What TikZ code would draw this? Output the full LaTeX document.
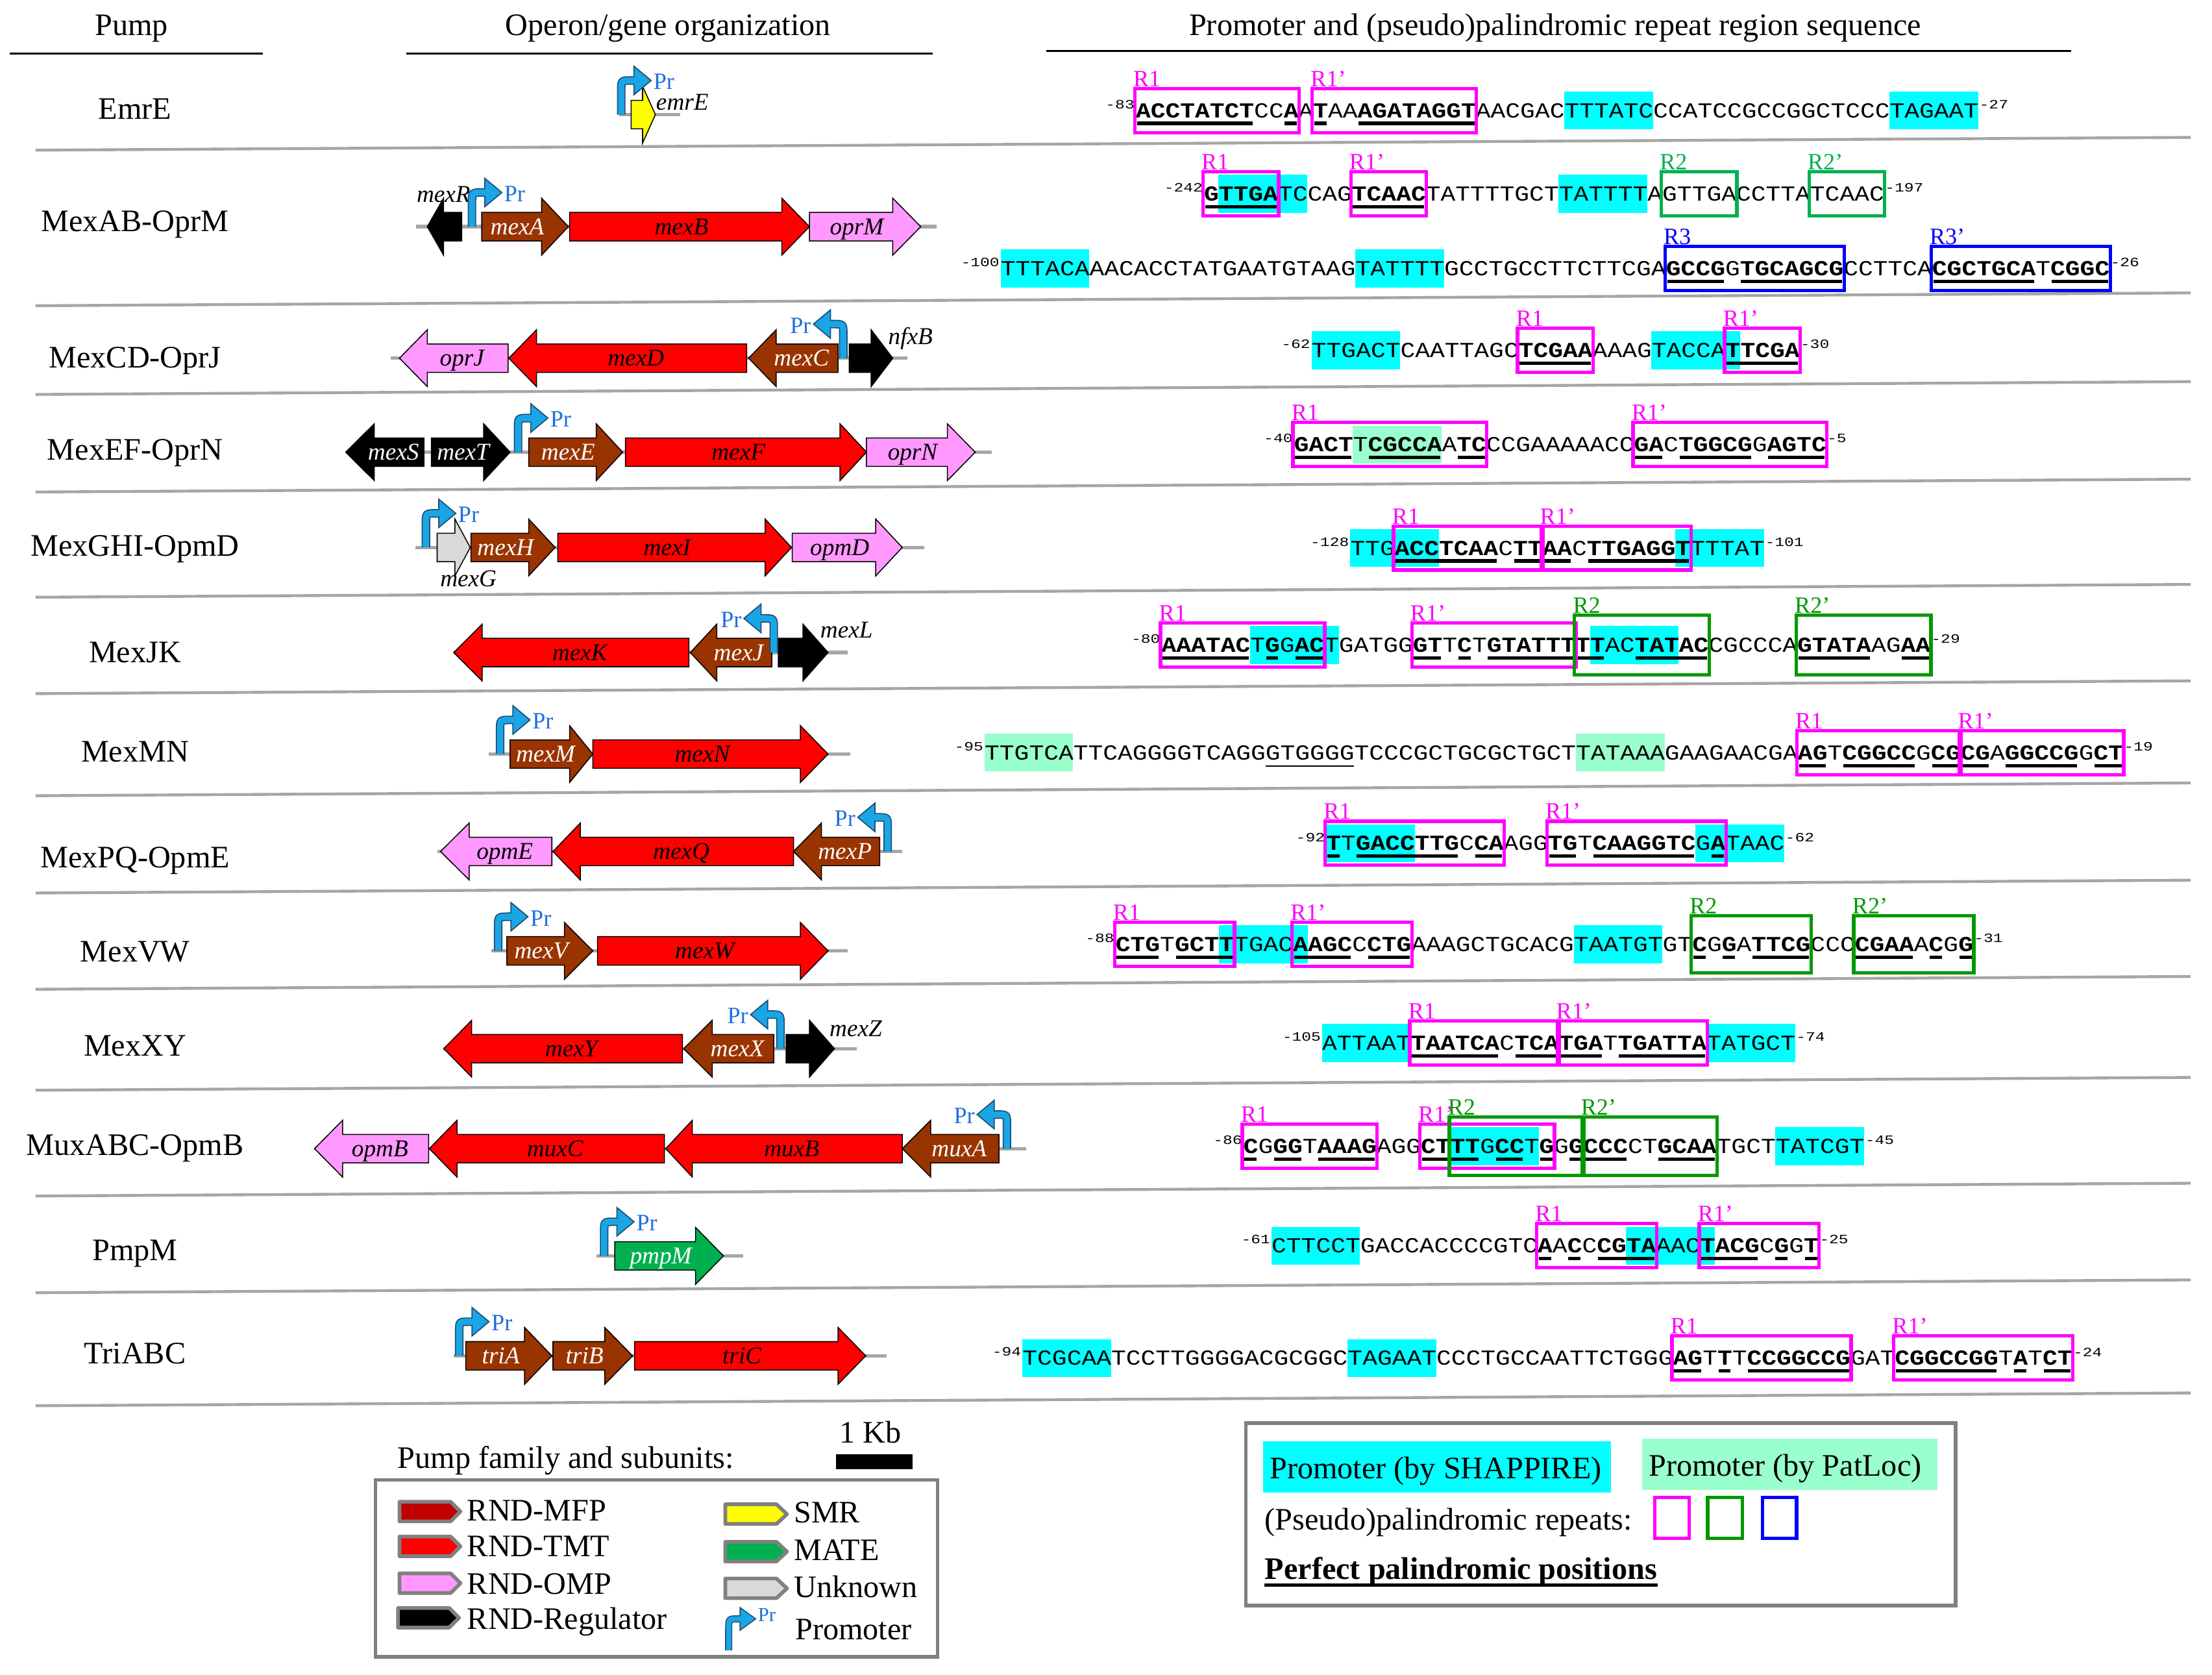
\documentclass[tikz,border=0pt]{standalone}
\usepackage{fontspec}
\setmainfont{Liberation Serif}
\newfontfamily\seqf{Liberation Mono}[FakeStretch=1.15]
\newfontfamily\numf{Liberation Mono}[FakeStretch=1.25]
\definecolor{mfpc}{HTML}{993300}
\definecolor{tmt}{HTML}{FF0000}
\definecolor{omp}{HTML}{FF99FF}
\definecolor{smr}{HTML}{FFFF00}
\definecolor{mate}{HTML}{00B050}
\definecolor{unk}{HTML}{D9D9D9}
\definecolor{legmfp}{HTML}{C00000}
\definecolor{cyanh}{HTML}{00FFFF}
\definecolor{minth}{HTML}{99FFCC}
\definecolor{mag}{HTML}{FF00FF}
\definecolor{grn}{HTML}{009900}
\definecolor{grnB}{HTML}{00B050}
\definecolor{blu}{HTML}{0000FF}
\definecolor{prfill}{HTML}{1AA6E4}
\definecolor{prline}{HTML}{1F4E79}
\definecolor{prblue}{HTML}{1F6FE0}
\definecolor{bbgray}{HTML}{A6A6A6}
\definecolor{lgray}{HTML}{808080}
\newcounter{nn}
\tikzset{
 big/.style={font=\fontsize{22}{22}\selectfont, inner sep=0pt},
 gl/.style={font=\fontsize{17}{17}\selectfont\itshape, inner sep=0pt, anchor=base},
 rlab/.style={font=\fontsize{16.5}{16.5}\selectfont, inner sep=0pt},
 prtxt/.style={text=prblue, font=\fontsize{16.5}{16.5}\selectfont, inner sep=0pt},
 seqtxt/.style={font=\seqf\fontsize{15.07}{15.07}\selectfont, inner sep=0pt, anchor=west},
 numtxt/.style={font=\numf\fontsize{9}{9}\selectfont, inner sep=0pt},
 bb/.style={draw=bbgray, line width=2.5pt},
 sepl/.style={draw=bbgray, line width=2pt},
 gene/.style={draw=black, line width=0.7pt, line join=miter},
 licn/.style={draw=lgray, line width=2.6pt, line join=round},
}
\def\cw{10.40}
% gene arrows
\newcommand\gR[7]{%
 \filldraw[gene, fill=#5] (#1,#4-10) -- (#2,#4-10) -- (#2,#4-20) -- (#3,#4) -- (#2,#4+20) -- (#2,#4+10) -- (#1,#4+10) -- cycle;
 \stepcounter{nn}\node[gl, text=#7] (g\thenn) at ({(#1+#2)/2+4},{#4+5.5}) {#6};}
\newcommand\gL[7]{%
 \filldraw[gene, fill=#5] (#3,#4-10) -- (#2,#4-10) -- (#2,#4-20) -- (#1,#4) -- (#2,#4+20) -- (#2,#4+10) -- (#3,#4+10) -- cycle;
 \stepcounter{nn}\node[gl, text=#7] (g\thenn) at ({(#2+#3)/2-4},{#4+5.5}) {#6};}
% promoter arrows
\newcommand\promR[2]{%
 \draw[prline, line width=6pt] (#1,#2) -- (#1,#2-17) .. controls (#1,#2-24) .. (#1+7,#2-24) -- (#1+10,#2-24);
 \filldraw[fill=prfill, draw=prline, line width=0.8pt, line join=miter] (#1+9,#2-34) -- (#1+21,#2-24) -- (#1+9,#2-14) -- cycle;
 \draw[prfill, line width=4.4pt] (#1,#2-0.1) -- (#1,#2-17) .. controls (#1,#2-24) .. (#1+7,#2-24) -- (#1+10.2,#2-24);
 \stepcounter{nn}\node[prtxt, anchor=west] (pr\thenn) at (#1+22.5,#2-23) {Pr};}
\newcommand\promL[2]{%
 \draw[prline, line width=6pt] (#1,#2) -- (#1,#2-17) .. controls (#1,#2-24) .. (#1-7,#2-24) -- (#1-10,#2-24);
 \filldraw[fill=prfill, draw=prline, line width=0.8pt, line join=miter] (#1-9,#2-34) -- (#1-21,#2-24) -- (#1-9,#2-14) -- cycle;
 \draw[prfill, line width=4.4pt] (#1,#2-0.1) -- (#1,#2-17) .. controls (#1,#2-24) .. (#1-7,#2-24) -- (#1-10.2,#2-24);
 \stepcounter{nn}\node[prtxt, anchor=east] (pr\thenn) at (#1-22.5,#2-23) {Pr};}
% sequence helpers
\newcommand\hlt[3]{\fill[#3] ({\xo+(#1)*\cw},{\yc-13.3}) rectangle ({\xo+(#2+1)*\cw},{\yc+13.3});}
\newcommand\rbx[5]{%
 \draw[#3, line width=2.4pt] ({\xo+(#1)*\cw-0.6},{\yc-#5}) rectangle ({\xo+(#2+1)*\cw+0.6},{\yc+#5});
 \stepcounter{nn}\node[rlab, text=#3, anchor=base west] (r\thenn) at ({\xo+(#1)*\cw-1.8},{\yc-#5-1.4}) {#4};}
\newcommand\ubr[2]{\fill ({\xo+(#1)*\cw+0.9},{\yc+7.9}) rectangle ({\xo+(#2+1)*\cw-0.9},{\yc+10.3});}
\newcommand\sqtext[5]{%
 \node[seqtxt] (#1) at (\xo,\yc) {#5};
 \node[numtxt, anchor=east] (#1l) at ({\xo-0.6},{\yc-4.2}) {#2};
 \node[numtxt, anchor=west] (#1r) at ({\xo+#4*\cw+0.6},{\yc-4.2}) {#3};}
\newcommand\licon[5]{\filldraw[licn, fill=#5] (#1,#4-6.9) -- (#2,#4-6.9) -- (#3,#4) -- (#2,#4+6.9) -- (#1,#4+6.9) -- cycle;}
\begin{document}
\begin{tikzpicture}[x=1pt,y=-1pt]
\fill[white] (0,0) rectangle (1556,1177.6);
\useasboundingbox (0,0) rectangle (1556,1177.6);
% headers
\node[big, anchor=base] (hp) at (92.5,25) {Pump};
\node[big, anchor=base] (ho) at (470,25) {Operon/gene organization};
\node[big, anchor=base] (hs) at (1094,25) {Promoter and (pseudo)palindromic repeat region sequence};
\draw[line width=1.5pt] (7,37.6) -- (185,37.6);
\draw[line width=1.5pt] (286,37.6) -- (656,37.6);
\draw[line width=1.5pt] (736,36) -- (1457,36);
% separators
\foreach \s in {105.6,215,277.4,346,420,487.8,559.6,628,695.7,766.7,841.1,909.1,988.6}
 {\draw[sepl] (25,\s) -- (1541,\s-9);}
% pump names
\node[big, anchor=base] (n1) at (95,83.9) {EmrE};
\node[big, anchor=base] (n2) at (95,162.9) {MexAB-OprM};
\node[big, anchor=base] (n3) at (95,258.5) {MexCD-OprJ};
\node[big, anchor=base] (n4) at (95,323.5) {MexEF-OprN};
\node[big, anchor=base] (n5) at (95,390.9) {MexGHI-OpmD};
\node[big, anchor=base] (n6) at (95,465.7) {MexJK};
\node[big, anchor=base] (n7) at (95,536) {MexMN};
\node[big, anchor=base] (n8) at (95,610) {MexPQ-OpmE};
\node[big, anchor=base] (n9) at (95,676.2) {MexVW};
\node[big, anchor=base] (n10) at (95,742.8) {MexXY};
\node[big, anchor=base] (n11) at (95,812.3) {MuxABC-OpmB};
\node[big, anchor=base] (n12) at (95,886.3) {PmpM};
\node[big, anchor=base] (n13) at (95,959.1) {TriABC};
% ---------- operons ----------
% EmrE
\draw[bb] (435.7,80.6) -- (478.6,80.6);
\gR{444}{452}{461}{80.6}{smr}{}{black}
\node[gl] (lemrE) at (480,77.5) {emrE};
\promR{437}{80.6}
% MexAB
\draw[bb] (292.6,159.4) -- (659,159.4);
\gL{300.6}{312}{324.8}{159.4}{black}{}{white}
\gR{338.8}{381}{399.8}{159.4}{mfpc}{mexA}{white}
\gR{400.7}{550}{569.4}{159.4}{tmt}{mexB}{black}
\gR{569.4}{628}{647.7}{159.4}{omp}{oprM}{black}
\node[gl] (lmexR) at (312,142) {mexR};
\promR{332}{159.4}
% MexCD
\draw[bb] (275,251.9) -- (638.4,251.9);
\gL{281}{300.6}{357.4}{251.9}{omp}{oprJ}{black}
\gL{357.9}{377.4}{525.2}{251.9}{tmt}{mexD}{black}
\gL{526.6}{546}{589.5}{251.9}{mfpc}{mexC}{white}
\gR{597.4}{612.8}{628}{251.9}{black}{}{white}
\node[gl] (lnfxB) at (640.5,242) {nfxB};
\promL{593.2}{251.9}
% MexEF
\draw[bb] (250,318) -- (697.6,318);
\gL{243.2}{263.3}{298.2}{318}{black}{mexS}{white}
\gR{303.4}{340.2}{358.8}{318}{black}{mexT}{white}
\gR{371.9}{419.4}{438}{318}{mfpc}{mexE}{white}
\gR{440}{590.9}{609.5}{318}{tmt}{mexF}{black}
\gR{609.5}{666.4}{686}{318}{omp}{oprN}{black}
\promR{364.4}{318}
% MexGHI
\draw[bb] (292,385) -- (650,385);
\gR{307.5}{320}{330.8}{385}{unk}{}{black}
\gR{331.3}{371.9}{390.5}{385}{mfpc}{mexH}{white}
\gR{392.4}{538.2}{556.8}{385}{tmt}{mexI}{black}
\gR{557.3}{616}{634.7}{385}{omp}{opmD}{black}
\node[gl] (lmexG) at (329.5,412.7) {mexG};
\promR{299.6}{385}
% MexJK
\draw[bb] (319,458.9) -- (596.5,458.9);
\gL{319.2}{339.2}{484.6}{458.9}{tmt}{mexK}{black}
\gL{485.6}{504.2}{542.9}{458.9}{mfpc}{mexJ}{white}
\gR{547.5}{564.8}{582.5}{458.9}{black}{}{white}
\node[gl] (lmexL) at (595.5,448.5) {mexL};
\promL{544.3}{458.9}
% MexMN
\draw[bb] (343.9,530.3) -- (597.9,530.3);
\gR{358.8}{400.7}{417}{530.3}{mfpc}{mexM}{white}
\gR{417}{563}{582.5}{530.3}{tmt}{mexN}{black}
\promR{351.8}{530.3}
% MexPQ
\draw[bb] (307.5,598.8) -- (634.7,598.8);
\gL{309.9}{330}{388.2}{598.8}{omp}{opmE}{black}
\gL{389}{408.2}{558.2}{598.8}{tmt}{mexQ}{black}
\gL{558.2}{577.8}{618.8}{598.8}{mfpc}{mexP}{white}
\promL{624.4}{598.8}
% MexVW
\draw[bb] (345.8,668.7) -- (596.5,668.7);
\gR{356.5}{397}{417}{668.7}{mfpc}{mexV}{white}
\gR{420.3}{563}{582.5}{668.7}{tmt}{mexW}{black}
\promR{350.4}{668.7}
% MexXY
\draw[bb] (312,737.5) -- (602.5,737.5);
\gL{312.2}{331.8}{480}{737.5}{tmt}{mexY}{black}
\gL{480.9}{501}{544.3}{737.5}{mfpc}{mexX}{white}
\gR{553}{569.4}{587}{737.5}{black}{}{white}
\node[gl] (lmexZ) at (602,729) {mexZ};
\promL{549}{737.5}
% MuxABC
\draw[bb] (221,807.8) -- (722,807.8);
\gL{221.3}{241}{301.5}{807.8}{omp}{opmB}{black}
\gL{302}{321.5}{467.4}{807.8}{tmt}{muxC}{black}
\gL{468.3}{487}{634.7}{807.8}{tmt}{muxB}{black}
\gL{634.7}{654.7}{702.7}{807.8}{mfpc}{muxA}{white}
\promL{708.3}{807.8}
% PmpM
\draw[bb] (419.4,883.2) -- (522.8,883.2);
\gR{432.4}{489.3}{508.9}{883.2}{mate}{pmpM}{white}
\promR{425}{883.2}
% TriABC
\draw[bb] (319.2,953.5) -- (623.5,953.5);
\gR{327.6}{369}{388.2}{953.5}{mfpc}{triA}{white}
\gR{389}{425.4}{445}{953.5}{mfpc}{triB}{white}
\gR{446.4}{589.5}{609}{953.5}{tmt}{triC}{black}
\promR{323}{953.5}
% ---------- sequences ----------
% EmrE
\def\xo{798.8}\def\yc{77.7}
\hlt{29}{34}{cyanh}\hlt{51}{56}{cyanh}
\sqtext{s1}{-83}{-27}{57}{\textbf{ACCTATCT}CC\textbf{A}A\textbf{T}AA\textbf{AGATAGGT}AACGACTTTATCCCATCCGCCGGCTCCCTAGAAT}
\foreach \a/\b in {0/7,10/10,12/12,15/22}{\ubr{\a}{\b}}
\rbx{0}{10}{mag}{R1}{15.5}\rbx{12}{22}{mag}{R1’}{15.5}
% MexAB line 1
\def\xo{846.8}\def\yc{136.3}
\hlt{1}{6}{cyanh}\hlt{24}{29}{cyanh}
\sqtext{s2}{-242}{-197}{46}{\textbf{GTTGA}TCCAG\textbf{TCAAC}TATTTTGCTTATTTTAGTTGACCTTATCAAC}
\foreach \a/\b in {0/4,10/14}{\ubr{\a}{\b}}
\rbx{0}{4}{mag}{R1}{15.5}\rbx{10}{14}{mag}{R1’}{15.5}
\rbx{31}{35}{grnB}{R2}{15.5}\rbx{41}{45}{grnB}{R2’}{15.5}
% MexAB line 2
\def\xo{703.8}\def\yc{188.8}
\hlt{0}{5}{cyanh}\hlt{24}{29}{cyanh}
\sqtext{s3}{-100}{-26}{75}{TTTACAAACACCTATGAATGTAAGTATTTTGCCTGCCTTCTTCGA\textbf{GCCG}G\textbf{TGCAGCG}CCTTCA\textbf{CGCTGCA}T\textbf{CGGC}}
\foreach \a/\b in {45/48,50/56,63/69,71/74}{\ubr{\a}{\b}}
\rbx{45}{56}{blu}{R3}{15.5}\rbx{63}{74}{blu}{R3’}{15.5}
% MexCD
\def\xo{922.5}\def\yc{246.3}
\hlt{0}{5}{cyanh}\hlt{23}{28}{cyanh}
\sqtext{s4}{-62}{-30}{33}{TTGACTCAATTAGC\textbf{TCGAA}AAAGTACCA\textbf{TTCGA}}
\foreach \a/\b in {14/18,28/32}{\ubr{\a}{\b}}
\rbx{14}{18}{mag}{R1}{15.5}\rbx{28}{32}{mag}{R1’}{15.5}
% MexEF
\def\xo{910.1}\def\yc{312.6}
\hlt{4}{9}{minth}
\sqtext{s5}{-40}{-5}{36}{\textbf{GACT}T\textbf{CGCCA}A\textbf{TC}CCGAAAAACC\textbf{GA}C\textbf{TGGCG}G\textbf{AGTC}}
\foreach \a/\b in {0/3,5/9,11/12,23/24,26/30,32/35}{\ubr{\a}{\b}}
\rbx{0}{12}{mag}{R1}{15.5}\rbx{23}{35}{mag}{R1’}{15.5}
% MexGHI
\def\xo{949.7}\def\yc{385.4}
\hlt{0}{5}{cyanh}\hlt{22}{27}{cyanh}
\sqtext{s6}{-128}{-101}{28}{TTG\textbf{ACCTCAA}C\textbf{TTAA}C\textbf{TTGAGGT}TTTAT}
\foreach \a/\b in {3/9,11/14,16/22}{\ubr{\a}{\b}}
\rbx{3}{12}{mag}{R1}{15.5}\rbx{13}{22}{mag}{R1’}{15.5}
% MexJK
\def\xo{816.9}\def\yc{453.6}
\hlt{6}{11}{cyanh}\hlt{29}{34}{cyanh}
\sqtext{s7}{-80}{-29}{52}{\textbf{AAATAC}T\textbf{G}G\textbf{AC}TGATGG\textbf{GT}T\textbf{C}T\textbf{GTATTTTT}AC\textbf{TATAC}CGCCCA\textbf{GTATA}AG\textbf{AA}}
\foreach \a/\b in {0/5,7/7,9/10,17/18,20/20,22/29,32/36,43/47,50/51}{\ubr{\a}{\b}}
\rbx{0}{10}{mag}{R1}{15.5}\rbx{17}{27}{mag}{R1’}{15.5}
\rbx{28}{36}{grn}{R2}{21}\rbx{43}{51}{grn}{R2’}{21}
% MexMN
\def\xo{692.5}\def\yc{529.3}
\hlt{0}{5}{minth}\hlt{40}{45}{minth}
\sqtext{s8}{-95}{-19}{77}{TTGTCATTCAGGGGTCAGGGTGGGGTCCCGCTGCGCTGCTTATAAAGAAGAACGA\textbf{AG}T\textbf{CGGCC}G\textbf{CGCG}A\textbf{GGCCG}G\textbf{CT}}
\foreach \a/\b in {55/56,58/62,64/67,69/73,75/76}{\ubr{\a}{\b}}
\draw[line width=0.9pt] ({\xo+19*\cw},{\yc+9.3}) -- ({\xo+25*\cw},{\yc+9.3});
\rbx{55}{65}{mag}{R1}{15.5}\rbx{66}{76}{mag}{R1’}{15.5}
% MexPQ
\def\xo{932.7}\def\yc{593}
\hlt{0}{5}{cyanh}\hlt{25}{30}{cyanh}
\sqtext{s9}{-92}{-62}{31}{\textbf{T}T\textbf{GACCTTG}C\textbf{CA}AGG\textbf{TG}T\textbf{CAAGGTC}G\textbf{A}TAAC}
\foreach \a/\b in {0/0,2/8,10/11,15/16,18/24,26/26}{\ubr{\a}{\b}}
\rbx{0}{11}{mag}{R1}{15.5}\rbx{15}{26}{mag}{R1’}{15.5}
% MexVW
\def\xo{784.6}\def\yc{664.1}
\hlt{7}{12}{cyanh}\hlt{31}{36}{cyanh}
\sqtext{s10}{-88}{-31}{58}{\textbf{CTG}T\textbf{GCTT}TGAC\textbf{AAGC}C\textbf{CTG}AAAGCTGCACGTAATGTGT\textbf{C}G\textbf{G}A\textbf{TTCG}CCC\textbf{CGAA}A\textbf{C}G\textbf{G}}
\foreach \a/\b in {0/2,4/7,12/15,17/19,39/39,41/41,43/46,50/53,55/55,57/57}{\ubr{\a}{\b}}
\rbx{0}{7}{mag}{R1}{15.5}\rbx{12}{19}{mag}{R1’}{15.5}
\rbx{39}{46}{grn}{R2}{20}\rbx{50}{57}{grn}{R2’}{20}
% MexXY
\def\xo{929.9}\def\yc{733.5}
\hlt{0}{5}{cyanh}\hlt{26}{31}{cyanh}
\sqtext{s11}{-105}{-74}{32}{ATTAAT\textbf{TAATCA}C\textbf{TCATGA}T\textbf{TGATTA}TATGCT}
\foreach \a/\b in {6/11,13/18,20/25}{\ubr{\a}{\b}}
\rbx{6}{15}{mag}{R1}{15.5}\rbx{16}{25}{mag}{R1’}{15.5}
% MuxABC
\def\xo{874.5}\def\yc{806.1}
\hlt{14}{19}{cyanh}\hlt{36}{41}{cyanh}
\sqtext{s12}{-86}{-45}{42}{\textbf{C}G\textbf{GG}T\textbf{AAAG}AGG\textbf{CTTT}G\textbf{CC}T\textbf{G}G\textbf{GCCC}CT\textbf{GCAA}TGCTTATCGT}
\foreach \a/\b in {0/0,2/3,5/8,12/15,17/18,20/20,22/25,28/31}{\ubr{\a}{\b}}
\rbx{0}{8}{mag}{R1}{15.5}\rbx{12}{20}{mag}{R1’}{15.5}
\rbx{14}{22}{grn}{R2}{20.5}\rbx{23}{31}{grn}{R2’}{20.5}
% PmpM
\def\xo{894.3}\def\yc{876}
\hlt{0}{5}{cyanh}\hlt{24}{29}{cyanh}
\sqtext{s13}{-61}{-25}{37}{CTTCCTGACCACCCCGTC\textbf{A}A\textbf{C}C\textbf{CGTA}AAC\textbf{TACG}C\textbf{G}G\textbf{T}}
\foreach \a/\b in {18/18,20/20,22/25,29/32,34/34,36/36}{\ubr{\a}{\b}}
\rbx{18}{25}{mag}{R1}{15.5}\rbx{29}{36}{mag}{R1’}{15.5}
% TriABC
\def\xo{719.1}\def\yc{955}
\hlt{0}{5}{cyanh}\hlt{22}{27}{cyanh}
\sqtext{s14}{-94}{-24}{71}{TCGCAATCCTTGGGGACGCGGCTAGAATCCCTGCCAATTCTGGG\textbf{AG}T\textbf{T}T\textbf{CCGGCCG}GAT\textbf{CGGCCGG}T\textbf{A}T\textbf{CT}}
\foreach \a/\b in {44/45,47/47,49/55,59/65,67/67,69/70}{\ubr{\a}{\b}}
\rbx{44}{55}{mag}{R1}{15.5}\rbx{59}{70}{mag}{R1’}{15.5}
% ---------- legend (left) ----------
\node[big, anchor=base west] (legt) at (279.6,1032.3) {Pump family and subunits:};
\node[big, anchor=base] (kb) at (612.3,1014.5) {1 Kb};
\fill (588.1,1022.8) rectangle (642.1,1033.2);
\draw[draw=lgray, line width=2.5pt] (264.2,1040.8) rectangle (659.4,1165.1);
\licon{281}{317}{323.9}{1063}{legmfp}
\licon{281}{317}{323.9}{1087.5}{tmt}
\licon{281}{317}{323.9}{1113.4}{omp}
\licon{280}{316}{322.9}{1137.7}{black}
\node[big, anchor=base west] (l1) at (328.5,1069.5) {RND-MFP};
\node[big, anchor=base west] (l2) at (328.5,1094.7) {RND-TMT};
\node[big, anchor=base west] (l3) at (328.5,1121) {RND-OMP};
\node[big, anchor=base west] (l4) at (328.5,1145.8) {RND-Regulator};
\licon{510.2}{546.2}{553.6}{1064.8}{smr}
\licon{510.2}{546.2}{553.6}{1091.2}{mate}
\licon{510.2}{546.2}{553.6}{1117}{unk}
\node[big, anchor=base west] (l5) at (558.3,1071) {SMR};
\node[big, anchor=base west] (l6) at (558.3,1097.3) {MATE};
\node[big, anchor=base west] (l7) at (558.3,1123.6) {Unknown};
\draw[prline, line width=5pt] (512.6,1160.6) -- (512.6,1146) .. controls (512.6,1138.5) .. (518.6,1138.5) -- (521.6,1138.5);
\filldraw[fill=prfill, draw=prline, line width=0.7pt, line join=miter] (520.6,1130.5) -- (531.6,1138.5) -- (520.6,1146.5) -- cycle;
\draw[prfill, line width=3.6pt] (512.6,1160.5) -- (512.6,1146) .. controls (512.6,1138.5) .. (518.6,1138.5) -- (521.8,1138.5);
\node[text=prblue, font=\fontsize{14}{14}\selectfont, inner sep=0pt, anchor=west] (lpr) at (533,1135.5) {Pr};
\node[big, anchor=base west] (l8) at (559.2,1153) {Promoter};
% ---------- legend (right) ----------
\draw[draw=lgray, line width=2.5pt] (876.4,1000.8) rectangle (1375.6,1129);
\fill[cyanh] (888.7,1013.7) rectangle (1133.3,1049.8);
\node[big, anchor=base west] (r1t) at (893,1040) {Promoter (by SHAPPIRE)};
\fill[minth] (1155.2,1011.9) rectangle (1362.9,1047.9);
\node[big, anchor=base west] (r2t) at (1159.6,1038) {Promoter (by PatLoc)};
\node[big, anchor=base west] (r3t) at (889.6,1076.1) {(Pseudo)palindromic repeats:};
\draw[mag, line width=2.4pt] (1163.9,1053.2) rectangle (1188.3,1081.8);
\draw[grn, line width=2.4pt] (1201.2,1053.2) rectangle (1225.6,1081.8);
\draw[blu, line width=2.4pt] (1239.8,1053.2) rectangle (1263.8,1081.8);
\node[big, anchor=base west, font=\fontsize{22}{22}\selectfont\bfseries] (r4t) at (889.6,1110.8) {Perfect palindromic positions};
\fill (889.6,1113.4) rectangle (1166.2,1115.9);
\end{tikzpicture}
\end{document}
